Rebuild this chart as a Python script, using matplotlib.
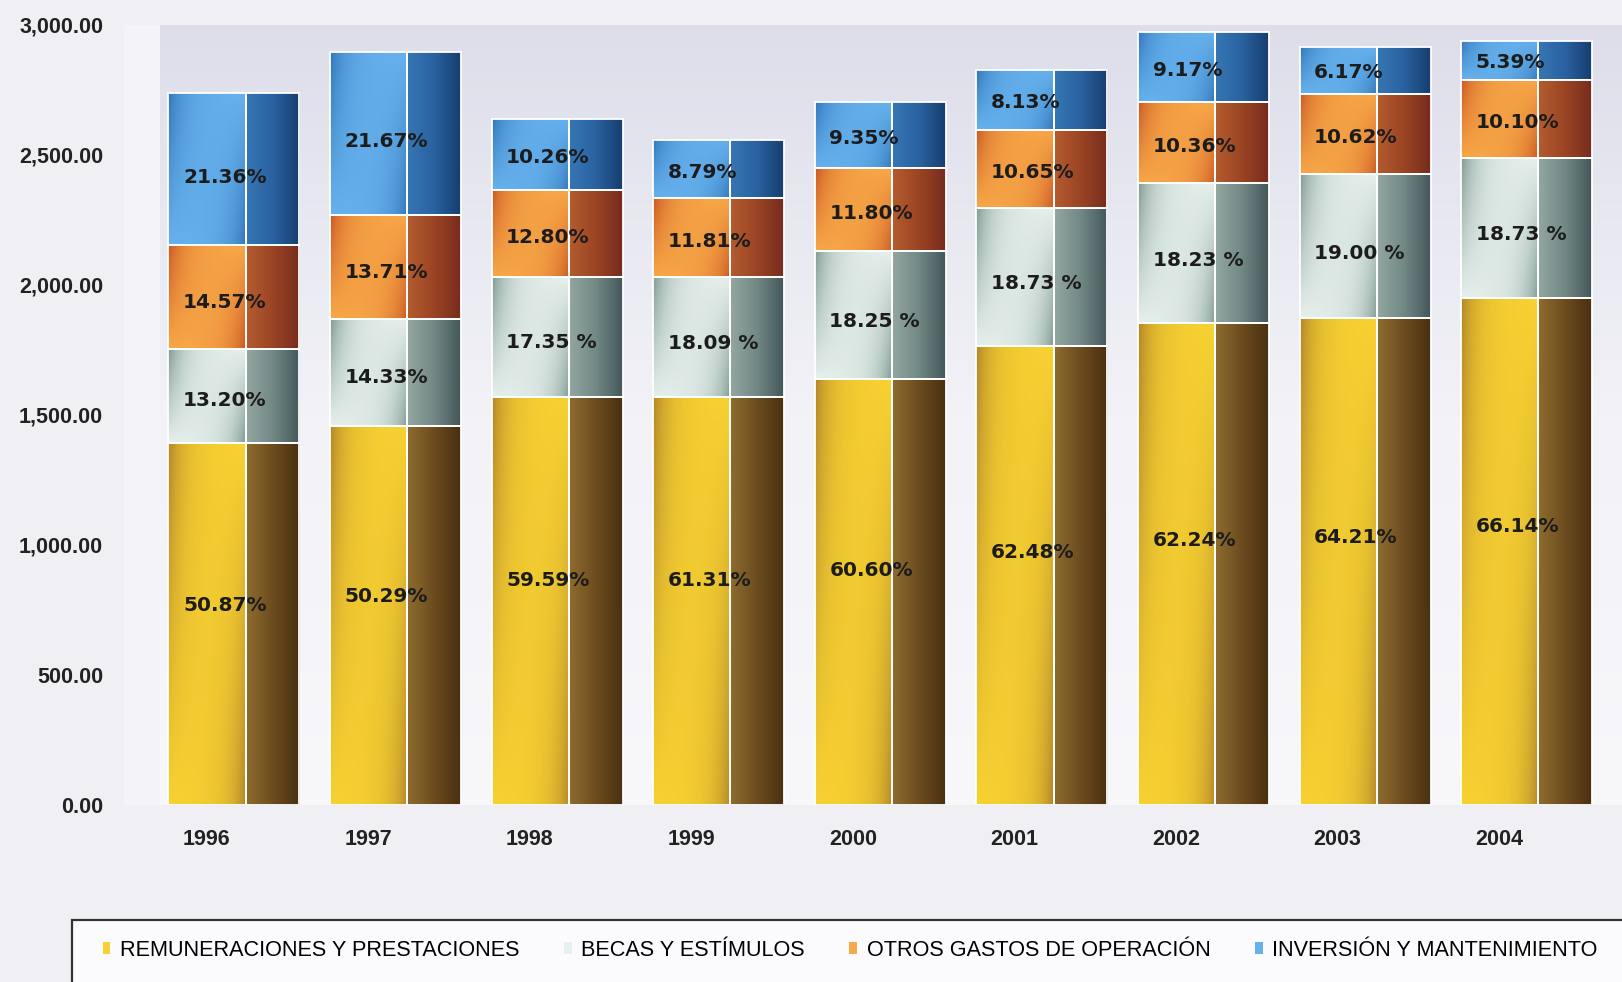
import numpy as np
import matplotlib.pyplot as plt
from matplotlib.colors import LinearSegmentedColormap, to_rgb
from matplotlib.patches import Rectangle, Patch

# values (stacked, bottom to top)
years = ['1996', '1997', '1998', '1999', '2000', '2001', '2002', '2003', '2004']
remuneraciones = [1392, 1456, 1571, 1568, 1637, 1767, 1852, 1872, 1950]
becas = [361, 415, 458, 463, 493, 530, 542, 554, 540]
otros = [399, 397, 338, 302, 319, 301, 308, 310, 298]
inversion = [585, 628, 271, 225, 253, 230, 273, 180, 152]

pct_rem = ['50.87%', '50.29%', '59.59%', '61.31%', '60.60%', '62.48%', '62.24%', '64.21%', '66.14%']
pct_becas = ['13.20%', '14.33%', '17.35 %', '18.09 %', '18.25 %', '18.73 %', '18.23 %', '19.00 %', '18.73 %']
pct_otros = ['14.57%', '13.71%', '12.80%', '11.81%', '11.80%', '10.65%', '10.36%', '10.62%', '10.10%']
pct_inv = ['21.36%', '21.67%', '10.26%', '8.79%', '9.35%', '8.13%', '9.17%', '6.17%', '5.39%']

names = ['REMUNERACIONES Y PRESTACIONES', 'BECAS Y ESTÍMULOS',
         'OTROS GASTOS DE OPERACIÓN', 'INVERSIÓN Y MANTENIMIENTO']

# (bright, shadow) for the light face, stops for the dark face
faces = [
    (('#f8d232', '#a87a28'), ['#8e6c2e', '#6c4c1f', '#4a3012']),
    (('#e6f0ec', '#6f8c84'), ['#93a6a2', '#728884', '#44585a']),
    (('#f8a848', '#c44a1e'), ['#b45c2e', '#9a4424', '#782c1e']),
    (('#66b2ee', '#2a6cb0'), ['#3676b4', '#2a62a0', '#163e70']),
]

fig = plt.figure(figsize=(16.22, 9.82), dpi=100)
fig.patch.set_facecolor('#f0f0f4')
ax = fig.add_axes([124 / 1622, 1 - 805 / 982, 1 - 124 / 1622, (805 - 25) / 982])

x = np.arange(len(years))
bw = 0.81
split = 0.59
xmin, xmax = -0.68, 8.59

# wall
wall = LinearSegmentedColormap.from_list('wall', ['#f8f8fb', '#f2f2f7', '#dedeeb'])
ax.imshow(np.linspace(0, 1, 100).reshape(-1, 1), cmap=wall, origin='lower',
          extent=(xmin, xmax, 0, 3000), aspect='auto', zorder=0)
ax.axvspan(xmin, -0.46, color='#f4f4f8', zorder=0.5, lw=0)

tt, ss = np.meshgrid(np.linspace(0, 1, 48), np.linspace(0, 1, 48))
shadow = np.clip(0.85 * (ss * np.exp(-tt / 0.22) + (1 - ss) * np.exp(-(1 - tt) / 0.22)), 0, 1)


def put(patch, img):
    x0, y0 = patch.get_x(), patch.get_y()
    im = ax.imshow(img, origin='lower', aspect='auto', zorder=2, interpolation='bilinear',
                   extent=(x0, x0 + patch.get_width(), y0, y0 + patch.get_height()))
    im.set_clip_path(patch)


series = [remuneraciones, becas, otros, inversion]
labels = [pct_rem, pct_becas, pct_otros, pct_inv]
bottom = np.zeros(len(years))
for k, vals in enumerate(series):
    vals = np.array(vals, dtype=float)
    hi, lo = np.array(to_rgb(faces[k][0][0])), np.array(to_rgb(faces[k][0][1]))
    light_img = hi * (1 - shadow[..., None]) + lo * shadow[..., None]
    dark_img = LinearSegmentedColormap.from_list('d', faces[k][1])(np.linspace(0, 1, 48).reshape(1, -1))
    left = ax.bar(x - bw / 2, vals, width=bw * split, bottom=bottom, align='edge',
                  facecolor='none', edgecolor='white', lw=1.3, zorder=3)
    right = ax.bar(x - bw / 2 + bw * split, vals, width=bw * (1 - split), bottom=bottom,
                   align='edge', facecolor='none', edgecolor='white', lw=1.3, zorder=3)
    for p in left:
        put(p, light_img)
    for p in right:
        put(p, dark_img)
    frac = 0.55 if k == 0 else 0.45
    for i in range(len(years)):
        ax.text(x[i] - bw / 2 + 0.09, bottom[i] + vals[i] * frac, labels[k][i],
                ha='left', va='center', fontsize=14.5, fontweight='bold',
                color='#1c1c1c', zorder=4, family='DejaVu Sans')
    bottom += vals

ax.set_xlim(xmin, xmax)
ax.set_ylim(0, 3000)
ax.set_yticks(range(0, 3001, 500))
ax.set_yticklabels(['{:,.2f}'.format(v) for v in range(0, 3001, 500)])
ax.set_xticks(x - 0.17)
ax.set_xticklabels(years)
ax.tick_params(axis='y', length=0, pad=15, labelsize=15.5, labelcolor='#222222')
ax.tick_params(axis='x', length=0, pad=17, labelsize=15.5, labelcolor='#222222')
for lab in ax.get_xticklabels() + ax.get_yticklabels():
    lab.set_family('Liberation Sans')
    lab.set_fontweight('bold')
for s in ax.spines.values():
    s.set_visible(False)

# legend box
fig.patches.append(Rectangle((72 / 1622, -0.02), 1.0, 0.02 + 1 - 920 / 982,
                             transform=fig.transFigure, facecolor='#fbfbfd',
                             edgecolor='#333333', lw=1.6, zorder=0))
handles = [Patch(facecolor=f[0][0], edgecolor='none') for f in faces]
fig.legend(handles, names, ncol=4, loc='center left', bbox_to_anchor=(92 / 1622, 1 - 950 / 982),
           frameon=False, borderpad=0, handlelength=0.35, handleheight=0.5,
           handletextpad=0.45, columnspacing=2.05,
           prop={'family': 'Liberation Sans', 'size': 15.6})

fig.savefig('out.png', dpi=100, facecolor=fig.get_facecolor())
